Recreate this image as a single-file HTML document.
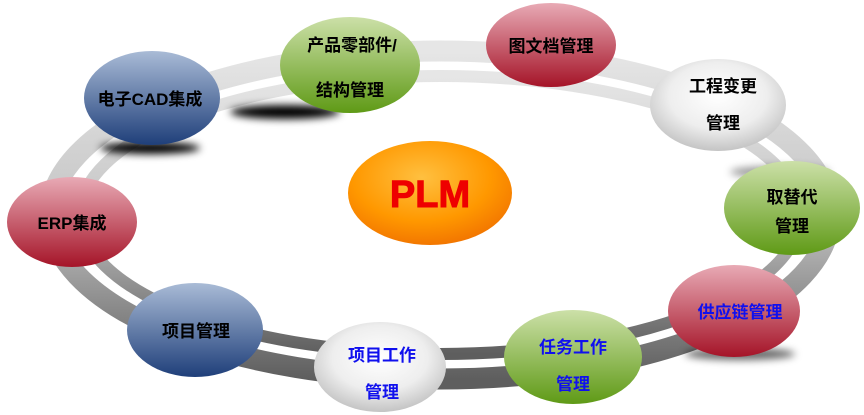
<!DOCTYPE html>
<html><head><meta charset="utf-8"><style>
html,body{margin:0;padding:0;background:#fff;}
svg{display:block}
text{font-family:"Liberation Sans","Noto Sans CJK SC",sans-serif;font-weight:bold;font-size:17px;text-anchor:middle}
</style></head><body>
<svg width="864" height="415" viewBox="0 0 864 415" xmlns="http://www.w3.org/2000/svg">
<defs>
<linearGradient id="ring" x1="0" y1="0" x2="0" y2="1">
<stop offset="0" stop-color="#e6e6e6"/><stop offset="0.5" stop-color="#c4c4c4"/><stop offset="1" stop-color="#5e5e5e"/>
</linearGradient>
<linearGradient id="blue" x1="0" y1="0" x2="0" y2="1"><stop offset="0" stop-color="#a9bbd6"/><stop offset="1" stop-color="#1f3f7a"/></linearGradient>
<linearGradient id="green" x1="0" y1="0" x2="0" y2="1"><stop offset="0" stop-color="#cce0a8"/><stop offset="1" stop-color="#5f9a16"/></linearGradient>
<linearGradient id="red" x1="0" y1="0" x2="0" y2="1"><stop offset="0" stop-color="#e8aab5"/><stop offset="1" stop-color="#a51428"/></linearGradient>
<radialGradient id="white" cx="0.5" cy="0.4" r="0.6"><stop offset="0" stop-color="#fff"/><stop offset="0.6" stop-color="#eee"/><stop offset="1" stop-color="#c4c4c4"/></radialGradient>
<radialGradient id="orange" cx="0.45" cy="0.35" r="0.7"><stop offset="0" stop-color="#ffc040"/><stop offset="0.6" stop-color="#ff9800"/><stop offset="1" stop-color="#f07000"/></radialGradient>
<filter id="blur" x="-50%" y="-50%" width="200%" height="200%"><feGaussianBlur stdDeviation="4"/></filter>
</defs>
<ellipse cx="440" cy="215" rx="390" ry="164" fill="none" stroke="url(#ring)" stroke-width="21"/>
<ellipse cx="440" cy="215" rx="360" ry="139" fill="none" stroke="url(#ring)" stroke-width="12"/>
<g filter="url(#blur)" fill="#000">
<ellipse cx="150" cy="148" rx="50" ry="6"/>
<ellipse cx="285" cy="112" rx="55" ry="7"/>
<ellipse cx="780" cy="172" rx="50" ry="6" opacity="0.4"/>
<ellipse cx="740" cy="354" rx="55" ry="6" opacity="0.6"/>
</g>
<ellipse cx="152" cy="98" rx="68" ry="47" fill="url(#blue)"/>
<ellipse cx="350" cy="65" rx="70" ry="48" fill="url(#green)"/>
<ellipse cx="551" cy="45" rx="65" ry="42" fill="url(#red)"/>
<ellipse cx="718" cy="105" rx="68" ry="46" fill="url(#white)"/>
<ellipse cx="792" cy="208" rx="68" ry="47" fill="url(#green)"/>
<ellipse cx="734" cy="311" rx="66" ry="46" fill="url(#red)"/>
<ellipse cx="573" cy="357" rx="69" ry="47" fill="url(#green)"/>
<ellipse cx="380" cy="367" rx="66" ry="45" fill="url(#white)"/>
<ellipse cx="195" cy="330" rx="68" ry="47" fill="url(#blue)"/>
<ellipse cx="72" cy="222" rx="65" ry="45" fill="url(#red)"/>
<ellipse cx="430" cy="193" rx="82" ry="52" fill="url(#orange)"/>
<text x="150" y="105">电子CAD集成</text>
<text x="352" y="51">产品零部件/</text>
<text x="350" y="96">结构管理</text>
<text x="551" y="52">图文档管理</text>
<text x="723" y="92">工程变更</text>
<text x="723" y="129">管理</text>
<text x="792" y="203">取替代</text>
<text x="792" y="232">管理</text>
<text x="740" y="318" fill="#1010ee">供应链管理</text>
<text x="573" y="353" fill="#1010ee">任务工作</text>
<text x="573" y="390" fill="#1010ee">管理</text>
<text x="382" y="361" fill="#1010ee">项目工作</text>
<text x="382" y="398" fill="#1010ee">管理</text>
<text x="196" y="337">项目管理</text>
<text x="72" y="229">ERP集成</text>
<text x="430" y="207" fill="#ee0000" stroke="#ee0000" stroke-width="1" style="font-size:38px">PLM</text>
</svg>
</body></html>
